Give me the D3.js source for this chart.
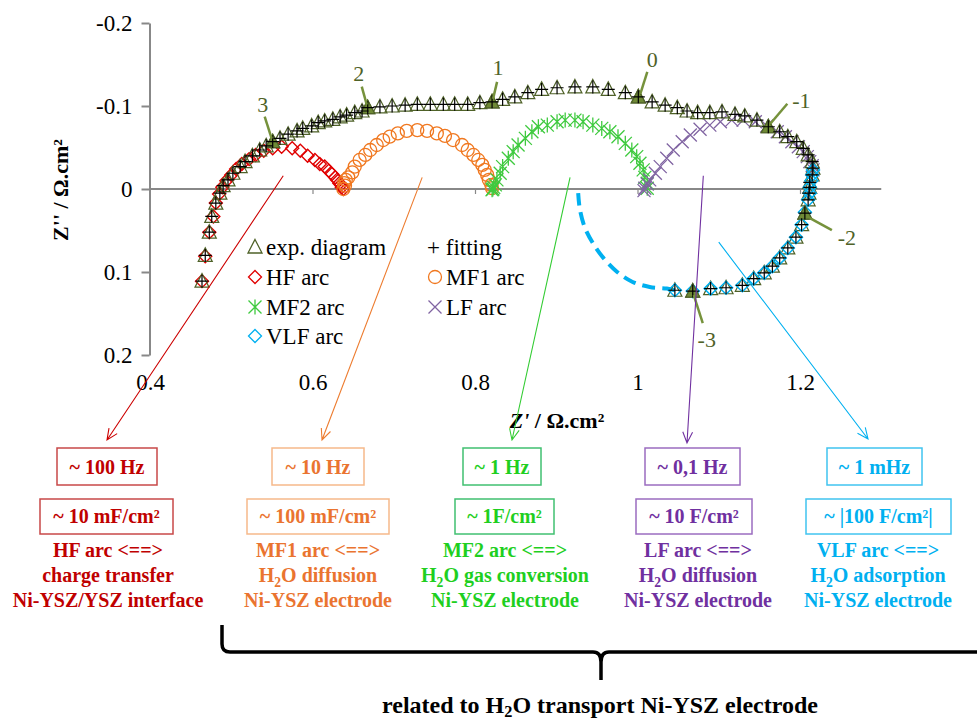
<!DOCTYPE html>
<html><head><meta charset="utf-8">
<script src="https://cdn.jsdelivr.net/npm/d3@7"></script>
<style>body{margin:0;background:#fff}svg{display:block}</style>
</head><body>
<svg id="c" width="977" height="724"></svg>
<script>
// ---------------- DATA ----------------
const expRe = [0.464,0.468,0.473,0.476,0.481,0.486,0.490,0.496,0.502,0.511,0.517,0.526,0.535,0.543,0.551,0.560,0.570,0.581,0.588,0.599,0.607,0.615,0.625,0.634,0.642,0.652,0.661,0.668,0.683,0.698,0.714,0.729,0.745,0.761,0.775,0.791,0.806,0.821,0.834,0.849,0.865,0.882,0.901,0.923,0.945,0.964,0.985,1.001,1.018,1.034,1.049,1.061,1.074,1.089,1.104,1.120,1.132,1.147,1.161,1.175,1.185,1.196,1.204,1.210,1.215,1.216,1.215,1.212,1.212,1.211,1.210,1.206,1.202,1.195,1.185,1.175,1.166,1.156,1.143,1.129,1.109,1.090,1.068,1.046];
const expIm = [0.111,0.080,0.052,0.033,0.017,0.005,-0.004,-0.011,-0.019,-0.027,-0.033,-0.040,-0.047,-0.052,-0.057,-0.061,-0.066,-0.070,-0.073,-0.076,-0.080,-0.082,-0.084,-0.087,-0.089,-0.092,-0.094,-0.098,-0.099,-0.100,-0.101,-0.102,-0.102,-0.102,-0.102,-0.102,-0.104,-0.105,-0.108,-0.111,-0.116,-0.120,-0.122,-0.123,-0.123,-0.120,-0.116,-0.111,-0.105,-0.101,-0.098,-0.094,-0.092,-0.092,-0.093,-0.090,-0.088,-0.083,-0.075,-0.069,-0.063,-0.057,-0.049,-0.041,-0.033,-0.025,-0.017,-0.008,-0.002,0.005,0.013,0.029,0.043,0.058,0.071,0.083,0.093,0.101,0.108,0.116,0.119,0.120,0.123,0.122];
// fitting lies on the experimental points
const fitRe = expRe;
const fitIm = expIm;

const hfRe = [0.464,0.468,0.473,0.478,0.481,0.485,0.489,0.494,0.500,0.506,0.513,0.522,0.530,0.540,0.551,0.562,0.575,0.585,0.594,0.603,0.609,0.615,0.620,0.624,0.628,0.630,0.633,0.635,0.636,0.638];
const hfIm = [0.111,0.081,0.052,0.033,0.017,0.006,-0.002,-0.010,-0.017,-0.024,-0.030,-0.036,-0.041,-0.046,-0.049,-0.051,-0.049,-0.046,-0.040,-0.035,-0.030,-0.027,-0.022,-0.018,-0.014,-0.011,-0.007,-0.005,-0.002,0.000];

const mf1Re = [0.638,0.640,0.639,0.641,0.644,0.649,0.652,0.658,0.665,0.671,0.679,0.687,0.695,0.705,0.716,0.729,0.741,0.753,0.763,0.773,0.784,0.791,0.798,0.804,0.809,0.812,0.815,0.817,0.820,0.821];
const mf1Im = [0.000,-0.004,-0.007,-0.011,-0.014,-0.020,-0.027,-0.035,-0.041,-0.047,-0.053,-0.059,-0.063,-0.067,-0.070,-0.071,-0.070,-0.067,-0.064,-0.059,-0.053,-0.047,-0.041,-0.035,-0.029,-0.023,-0.017,-0.011,-0.005,-0.001];

const mf2Re = [0.821,0.823,0.822,0.825,0.827,0.831,0.834,0.841,0.847,0.853,0.862,0.870,0.878,0.889,0.901,0.911,0.923,0.933,0.945,0.956,0.966,0.976,0.985,0.993,0.999,1.003,1.007,1.009,1.012,1.012];
const mf2Im = [0.001,-0.002,0.000,-0.005,-0.011,-0.019,-0.027,-0.037,-0.045,-0.053,-0.061,-0.069,-0.075,-0.077,-0.081,-0.083,-0.083,-0.081,-0.077,-0.073,-0.069,-0.063,-0.055,-0.047,-0.039,-0.031,-0.023,-0.014,-0.007,-0.001];

const lfRe = [1.008,1.009,1.012,1.015,1.022,1.028,1.036,1.044,1.055,1.065,1.077,1.089,1.102,1.116,1.130,1.145,1.159,1.172,1.182,1.190,1.198,1.204,1.209,1.212,1.215,1.216];
const lfIm = [0.002,-0.001,-0.006,-0.011,-0.019,-0.027,-0.037,-0.047,-0.057,-0.065,-0.072,-0.077,-0.081,-0.083,-0.083,-0.081,-0.076,-0.069,-0.063,-0.057,-0.051,-0.045,-0.039,-0.033,-0.028,-0.023];

const vlfRe = [1.216,1.215,1.214,1.212,1.212,1.210,1.206,1.202,1.195,1.185,1.175,1.166,1.156,1.143,1.129,1.109,1.090,1.068,1.046];
const vlfIm = [-0.023,-0.017,-0.010,-0.002,0.005,0.013,0.028,0.043,0.058,0.071,0.083,0.093,0.101,0.108,0.116,0.119,0.120,0.123,0.122];

const vlfExtRe = [1.046,1.036,1.015,0.994,0.975,0.958,0.945,0.935,0.929,0.927];
const vlfExtIm = [0.122,0.120,0.118,0.112,0.100,0.083,0.065,0.046,0.024,0.005];

const labelTxt = ["3","2","1","0","-1","-2","-3"];
const labelRe = [0.551,0.668,0.821,1.001,1.161,1.206,1.068];
const labelIm = [-0.057,-0.098,-0.105,-0.111,-0.075,0.029,0.123];

const yTicks = [-0.2,-0.1,0,0.1,0.2];
const xTicks = [0.4,0.6,0.8,1,1.2];

const legendNames = ["exp. diagram","+ fitting","HF arc","MF1 arc","MF2 arc","LF arc","VLF arc"];

const freqTxt = ["~ 100 Hz","~ 10 Hz","~ 1 Hz","~ 0,1 Hz","~ 1 mHz"];
const capTxt = ["~ 10 mF/cm²","~ 100 mF/cm²","~ 1F/cm²","~ 10 F/cm²","~ |100 F/cm²|"];
const descTxt = [
  ["HF arc <==>","charge transfer","Ni-YSZ/YSZ interface"],
  ["MF1 arc <==>","H₂O diffusion","Ni-YSZ electrode"],
  ["MF2 arc <==>","H₂O gas conversion","Ni-YSZ electrode"],
  ["LF arc <==>","H₂O diffusion","Ni-YSZ electrode"],
  ["VLF arc <==>","H₂O adsorption","Ni-YSZ electrode"]
];
const arrowStartRe = [0.564,0.735,0.917,1.081,1.100];
const arrowStartIm = [-0.016,-0.014,-0.014,-0.016,0.064];
const bottomText = "related to H₂O transport Ni-YSZ electrode";

// ---------------- STYLE / LAYOUT ----------------
const FONT = "'Liberation Serif','Times New Roman',serif";
const colText = ["#c00000","#ea7430","#1fcf1f","#7030a0","#00b0f0"];
const colBox  = ["#c84848","#f6b98a","#40c070","#9b6cc0","#40c4f0"];
const colArrow= ["#cc0000","#ed7d31","#33cc33","#7030a0","#00b0f0"];
const colHF="#e00000", colMF1="#f07820", colMF2="#3fca3f", colLF="#8064a2", colVLF="#00b0f0";
const colExp="#4f6228", colExpFill="#6f8a36", colLbl="#4f6228", colLead="#76923c";

const svg = d3.select("#c");
const x = d3.scaleLinear().domain([0.4,1.3]).range([150,881.25]);
const y = d3.scaleLinear().domain([-0.2,0.2]).range([23,355]);

// axes
const gy = svg.append("g").attr("transform","translate(149.5,0)")
  .call(d3.axisLeft(y).tickValues(yTicks).tickSize(8).tickPadding(9).tickSizeOuter(0).tickFormat(d=>String(d)));
gy.select(".domain").attr("stroke","#888").attr("stroke-width",2);
gy.selectAll(".tick line").attr("stroke","#888").attr("stroke-width",2);
gy.selectAll("text").attr("font-family",FONT).attr("font-size",23).attr("fill","#000");

const gx = svg.append("g").attr("transform",`translate(0,${y(0)})`)
  .call(d3.axisBottom(x).tickValues([0.6,0.8,1,1.2]).tickSize(5).tickSizeOuter(0).tickFormat(""));
gx.select(".domain").attr("stroke","#888").attr("stroke-width",2).attr("d",`M${x(0.4)-1},0H${x(1.3)}`);
gx.selectAll(".tick line").attr("stroke","#888").attr("stroke-width",1.2);

const gxl = svg.append("g").attr("transform",`translate(0,${y(0.2)})`)
  .call(d3.axisBottom(x).tickValues(xTicks).tickSize(0).tickPadding(19).tickFormat(d=>String(d)));
gxl.select(".domain").remove();
gxl.selectAll("text").attr("font-family",FONT).attr("font-size",23).attr("fill","#000");

// axis titles
svg.append("text").attr("transform","translate(68,190) rotate(-90)").attr("text-anchor","middle")
  .attr("font-family",FONT).attr("font-size",22).attr("font-weight","bold").text("Z'' / Ω.cm²");
const xt = svg.append("text").attr("x",557).attr("y",428).attr("text-anchor","middle")
  .attr("font-family",FONT).attr("font-size",22).attr("font-weight","bold");
xt.append("tspan").attr("font-style","italic").text("Z'");
xt.append("tspan").text(" / Ω.cm²");

// marker shapes
const S = 6.5;
const shapes = {
  tri: `M0,${-S-1}L${S+0.5},${S-0.5}L${-S-0.5},${S-0.5}Z`,
  dia: `M0,${-S}L${S},0L0,${S}L${-S},0Z`,
  plus:`M${-S},0H${S}M0,${-S}V${S}`,
  times:`M${-S},${-S}L${S},${S}M${-S},${S}L${S},${-S}`,
  star:`M${-S},${-S}L${S},${S}M${-S},${S}L${S},${-S}M0,${-S-1}V${S+1}`
};
function zipP(re,im){return re.map((r,i)=>({re:r,im:im[i]}));}
function drawSeries(re,im,shape,opt){
  const g = svg.append("g");
  if(shape==="circle"){
    g.selectAll("circle").data(zipP(re,im)).join("circle")
      .attr("cx",d=>x(d.re)).attr("cy",d=>y(d.im)).attr("r",6.5)
      .attr("fill","none").attr("stroke",opt.stroke).attr("stroke-width",opt.sw||1.3);
  } else {
    g.selectAll("path").data(zipP(re,im)).join("path")
      .attr("transform",d=>`translate(${x(d.re)},${y(d.im)})`).attr("d",shapes[shape])
      .attr("fill",opt.fill||"none").attr("stroke",opt.stroke).attr("stroke-width",opt.sw||1.3);
  }
  return g;
}

// VLF extrapolated dashed arc
svg.append("path").datum(zipP(vlfExtRe,vlfExtIm))
  .attr("d",d3.line().x(d=>x(d.re)).y(d=>y(d.im)).curve(d3.curveCatmullRom))
  .attr("fill","none").attr("stroke",colVLF).attr("stroke-width",4).attr("stroke-dasharray","13,7");

// arcs
drawSeries(hfRe,hfIm,"dia",{stroke:colHF,sw:1.4});
drawSeries(mf1Re,mf1Im,"circle",{stroke:colMF1,sw:1.3});
drawSeries(mf2Re,mf2Im,"star",{stroke:colMF2,sw:1.3});
drawSeries(lfRe,lfIm,"times",{stroke:colLF,sw:1.3});
// experimental
drawSeries(expRe,expIm,"tri",{stroke:colExp,sw:1.2});
drawSeries(vlfRe,vlfIm,"dia",{stroke:colVLF,sw:1.5});
// highlighted decade points
drawSeries(labelRe,labelIm,"tri",{stroke:colExp,fill:colExpFill,sw:1.2});
// fitting
drawSeries(fitRe,fitIm,"plus",{stroke:"#000",sw:1.2});

// decade labels (offsets are layout)
const lblLayout = [
  {tx:-10,ty:-30,l1:[-8,-25],l2:[-1,-3]},
  {tx:-9,ty:-27,l1:[-6,-21],l2:[-1,-3]},
  {tx:6,ty:-27,l1:[5,-20],l2:[1,-3]},
  {tx:14,ty:-30,l1:[9,-25],l2:[2,-3]},
  {tx:33,ty:-19,l1:[19,-23],l2:[2,-3]},
  {tx:42,ty:32,l1:[27,17],l2:[5,5]},
  {tx:14,ty:56,l1:[10,32],l2:[1,4]}
];
labelTxt.forEach((t,i)=>{
  const px=x(labelRe[i]), py=y(labelIm[i]), L=lblLayout[i];
  svg.append("line").attr("x1",px+L.l1[0]).attr("y1",py+L.l1[1]).attr("x2",px+L.l2[0]).attr("y2",py+L.l2[1])
    .attr("stroke",colLead).attr("stroke-width",2.5);
  svg.append("text").attr("x",px+L.tx).attr("y",py+L.ty).attr("text-anchor","middle")
    .attr("font-family",FONT).attr("font-size",22).attr("fill",colLbl).text(t);
});

// legend
const legPos = [[255,247],[435,247],[255,277],[435,277],[255,307],[435,307],[255,336]];
const legShape = ["tri",null,"dia","circle","star","times","dia"];
const legCol = [colExp,"#000",colHF,colMF1,colMF2,colLF,colVLF];
legendNames.forEach((n,i)=>{
  const [lx,ly]=legPos[i];
  if(legShape[i]==="circle"){
    svg.append("circle").attr("cx",lx).attr("cy",ly).attr("r",6.5).attr("fill","none").attr("stroke",legCol[i]).attr("stroke-width",1.3);
  } else if(legShape[i]){
    svg.append("path").attr("transform",`translate(${lx},${ly})`).attr("d",shapes[legShape[i]])
      .attr("fill","none").attr("stroke",legCol[i]).attr("stroke-width",1.3);
  }
  svg.append("text").attr("x",legShape[i]?lx+11:lx-8).attr("y",ly+8).attr("font-family",FONT)
    .attr("font-size",23).attr("fill","#000").text(n);
});

// arrows
const arrowEnd = [[107,440],[322,440],[512,440],[687,443],[868,439]];
arrowStartRe.forEach((r,i)=>{
  const x1=x(r), y1=y(arrowStartIm[i]), [x2,y2]=arrowEnd[i];
  const a=Math.atan2(y2-y1,x2-x1), L=12, th=0.42;
  svg.append("path").attr("d",`M${x1},${y1}L${x2},${y2}M${x2-L*Math.cos(a-th)},${y2-L*Math.sin(a-th)}L${x2},${y2}L${x2-L*Math.cos(a+th)},${y2-L*Math.sin(a+th)}`)
    .attr("fill","none").attr("stroke",colArrow[i]).attr("stroke-width",1.1);
});

// rich text helper (subscript 2)
function rich(sel,s,sh){
  sh = sh||5;
  const parts=s.split("₂");
  sel.append("tspan").text(parts[0]);
  for(let k=1;k<parts.length;k++){
    sel.append("tspan").attr("font-size","0.68em").attr("dy",sh).text("2");
    sel.append("tspan").attr("dy",-sh).text(parts[k]);
  }
}

// boxes
const box1 = [[57,157],[272,364],[463,541],[645,740],[827,922]];
const box2 = [[40,173],[247,389],[455,554],[636,752],[806,951]];
const descX = [108,318,505,698,878];
freqTxt.forEach((f,i)=>{
  svg.append("rect").attr("x",box1[i][0]).attr("y",448).attr("width",box1[i][1]-box1[i][0]).attr("height",37)
    .attr("fill","none").attr("stroke",colBox[i]).attr("stroke-width",1.5);
  svg.append("text").attr("x",(box1[i][0]+box1[i][1])/2).attr("y",474).attr("text-anchor","middle")
    .attr("font-family",FONT).attr("font-size",20).attr("font-weight","bold").attr("fill",colText[i]).text(f);
  svg.append("rect").attr("x",box2[i][0]).attr("y",499).attr("width",box2[i][1]-box2[i][0]).attr("height",35)
    .attr("fill","none").attr("stroke",colBox[i]).attr("stroke-width",1.5);
  svg.append("text").attr("x",(box2[i][0]+box2[i][1])/2).attr("y",523).attr("text-anchor","middle")
    .attr("font-family",FONT).attr("font-size",20).attr("font-weight","bold").attr("fill",colText[i]).text(capTxt[i]);
  descTxt[i].forEach((line,j)=>{
    const t=svg.append("text").attr("x",descX[i]).attr("y",557+25*j).attr("text-anchor","middle")
      .attr("font-family",FONT).attr("font-size",20).attr("font-weight","bold").attr("fill",colText[i]);
    rich(t,line);
  });
});

// brace
svg.append("path").attr("d","M222,625V644Q222,652 230,652H593Q601,652 601,662V680M601,662Q601,652 609,652H985")
  .attr("fill","none").attr("stroke","#000").attr("stroke-width",3.5);
const bt=svg.append("text").attr("x",600).attr("y",713).attr("text-anchor","middle")
  .attr("font-family",FONT).attr("font-size",24).attr("font-weight","bold").attr("fill","#000");
rich(bt,bottomText,4);
</script>
</body></html>
